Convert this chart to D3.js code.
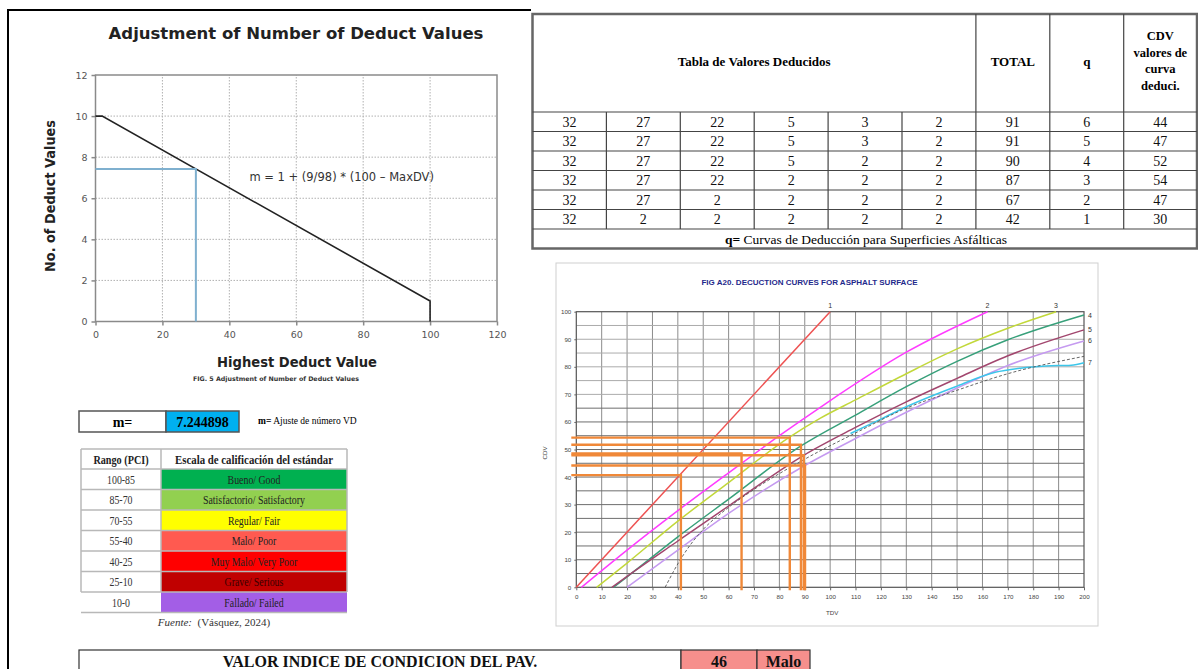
<!DOCTYPE html>
<html>
<head>
<meta charset="utf-8">
<script src="https://cdn.jsdelivr.net/npm/d3@7"></script>
<style>
body { margin: 0; background: #fff; }
svg { display: block; }
</style>
</head>
<body>
<svg width="1198" height="669"></svg>
<script>
var svg = d3.select("svg");

// ---------- data ----------
// adjustment of number of deduct values
var adjDV = [0, 2, 100, 100];
var adjM = [10, 10, 1, 0];
var readDV = 30, readM = 7.43;
var mValue = "7.244898";

// table of deduct values
var dvRows = [
    [32, 27, 22, 5, 3, 2],
    [32, 27, 22, 5, 3, 2],
    [32, 27, 22, 5, 2, 2],
    [32, 27, 22, 2, 2, 2],
    [32, 27, 2, 2, 2, 2],
    [32, 2, 2, 2, 2, 2]
];
var totals = [91, 91, 90, 87, 67, 42];
var qVals = [6, 5, 4, 3, 2, 1];
var cdvVals = [44, 47, 52, 54, 47, 30];

// PCI rating scale
var pciRange = ["100-85", "85-70", "70-55", "55-40", "40-25", "25-10", "10-0"];
var pciLabel = ["Bueno/ Good", "Satisfactorio/ Satisfactory", "Regular/ Fair", "Malo/ Poor",
    "Muy Malo/ Very Poor", "Grave/ Serious", "Fallado/ Failed"];
var pciColor = ["#00b050", "#92d050", "#ffff00", "#ff5a50", "#ff0000", "#c00000", "#a35ee6"];
var pciValue = 46, pciClass = "Malo";

// deduction curves for asphalt surface
var q1TDV = [0, 100], q1CDV = [0, 100];
var q2TDV = [2, 20, 40, 60, 80, 98, 130, 162];
var q2CDV = [0, 13.5, 27.8, 41.5, 55, 66.5, 85.3, 100];
var q3TDV = [8, 20, 40, 60, 84, 96, 110, 130, 150, 170, 189];
var q3CDV = [0, 8.8, 24, 38, 54.5, 61.3, 68, 77.5, 86.5, 94, 100];
var q4TDV = [14.6, 20, 40, 60, 88.5, 110, 130, 150, 170, 200];
var q4CDV = [0, 3.8, 18.3, 32, 51.3, 62.5, 72.8, 82, 89.8, 98.8];
var q5TDV = [14, 20, 40, 60, 89.6, 110, 130, 150, 170, 200];
var q5CDV = [0, 4, 16.8, 29.5, 47.9, 58, 67.3, 75.8, 84, 93.4];
var q6TDV = [20, 40, 60, 90, 110, 130, 150, 170, 200];
var q6CDV = [0, 13.5, 26.8, 44.2, 54, 63.5, 72.3, 80.5, 89.4];
var q7TDV = [108, 120, 130, 150, 165, 175, 185, 195, 200];
var q7CDV = [55.8, 61, 65.5, 73, 78, 79.5, 80.3, 80.6, 81.5];
var trendTDV = [35, 40, 45, 50, 60, 70, 90, 110, 130, 150, 170, 200];
var trendCDV = [0, 8.5, 15.5, 21, 29, 35.5, 46.5, 56, 65, 71.5, 77.5, 83.8];
var curveColor = ["#ee5252", "#ff3cff", "#c2d83a", "#37a07a", "#a2466e", "#c59af0", "#3cc6ea"];

// orange reading lines (TDV -> CDV)
var guideTDV = [41.2, 65.1, 84.1, 88.5, 89.6, 90.1];
var guideCDV = [40.7, 48.6, 54.3, 51.7, 47.9, 44.2];

// ---------- helpers ----------
function squeeze(sel, k) {
    sel.each(function () {
        var w = this.getComputedTextLength();
        d3.select(this).attr("textLength", w * k).attr("lengthAdjust", "spacingAndGlyphs");
    });
}
function fitWidth(sel, w) {
    sel.each(function () {
        var n = this.getComputedTextLength();
        if (n > w) d3.select(this).attr("textLength", w).attr("lengthAdjust", "spacingAndGlyphs");
    });
}

// page frame
svg.append("path")
    .attr("d", "M8,669V10H531")
    .attr("fill", "none").attr("stroke", "#000").attr("stroke-width", 2);

// ---------- left chart ----------
var x1 = d3.scaleLinear().domain([0, 120]).range([95.5, 497]);
var y1 = d3.scaleLinear().domain([0, 12]).range([321.5, 75]);
var left = svg.append("g").attr("font-family", "DejaVu Sans, Verdana, sans-serif");

left.append("g").selectAll("line")
    .data(d3.range(20, 120, 20))
    .enter().append("line")
    .attr("x1", d => x1(d)).attr("x2", d => x1(d))
    .attr("y1", y1(0)).attr("y2", y1(12))
    .attr("stroke", "#b0b0b0").attr("stroke-dasharray", "1.5,1.5");
left.append("g").selectAll("line")
    .data(d3.range(2, 12, 2))
    .enter().append("line")
    .attr("x1", x1(0)).attr("x2", x1(120))
    .attr("y1", d => y1(d)).attr("y2", d => y1(d))
    .attr("stroke", "#b0b0b0").attr("stroke-dasharray", "1.5,1.5");

left.append("rect")
    .attr("x", x1(0)).attr("y", y1(12))
    .attr("width", x1(120) - x1(0)).attr("height", y1(0) - y1(12))
    .attr("fill", "none").attr("stroke", "#8a8a8a").attr("stroke-width", 1.5);

var xAx = left.append("g")
    .attr("transform", "translate(0," + y1(0) + ")")
    .call(d3.axisBottom(x1).tickValues(d3.range(0, 121, 20)).tickSize(4).tickPadding(6));
var yAx = left.append("g")
    .attr("transform", "translate(" + x1(0) + ",0)")
    .call(d3.axisLeft(y1).tickValues(d3.range(0, 13, 2)).tickSize(4).tickPadding(4));
[xAx, yAx].forEach(function (ax) {
    ax.select(".domain").remove();
    ax.attr("font-family", "DejaVu Sans, Verdana, sans-serif");
    ax.selectAll("line").attr("stroke", "#8a8a8a").attr("stroke-width", 1.5);
    ax.selectAll("text").attr("fill", "#555").attr("font-size", 9.5);
});

var adjLine = d3.line().x(d => x1(d[0])).y(d => y1(d[1]));
left.append("path")
    .attr("d", adjLine(d3.zip(adjDV, adjM)))
    .attr("fill", "none").attr("stroke", "#222").attr("stroke-width", 1.6);
left.append("path")
    .attr("d", adjLine([[0, readM], [readDV, readM], [readDV, 0]]))
    .attr("fill", "none").attr("stroke", "#7fb0cf").attr("stroke-width", 2);

left.append("text")
    .attr("x", 296).attr("y", 39).attr("text-anchor", "middle")
    .attr("font-size", 16.5).attr("font-weight", "bold").attr("fill", "#222")
    .text("Adjustment of Number of Deduct Values")
    .call(fitWidth, 385);
left.append("text")
    .attr("x", x1(46)).attr("y", y1(6.85))
    .attr("font-size", 11.5).attr("fill", "#333")
    .text("m = 1 + (9/98) * (100 \u2013 MaxDV)")
    .call(fitWidth, 188);
left.append("text")
    .attr("transform", "translate(55,196) rotate(-90)")
    .attr("text-anchor", "middle")
    .attr("font-size", 13.5).attr("font-weight", "bold").attr("fill", "#222")
    .text("No. of Deduct Values")
    .call(fitWidth, 152);
left.append("text")
    .attr("x", 297).attr("y", 367).attr("text-anchor", "middle")
    .attr("font-size", 14).attr("font-weight", "bold").attr("fill", "#222")
    .text("Highest Deduct Value")
    .call(fitWidth, 160);
left.append("text")
    .attr("x", 276).attr("y", 380.5).attr("text-anchor", "middle")
    .attr("font-size", 6.3).attr("font-weight", "bold").attr("fill", "#333")
    .text("FIG. 5 Adjustment of Number of Deduct Values")
    .call(fitWidth, 190);

// ---------- m box ----------
var serif = "Liberation Serif, Times New Roman, serif";
var mg = svg.append("g").attr("font-family", serif);
mg.append("rect").attr("x", 79).attr("y", 411).attr("width", 87).attr("height", 21)
    .attr("fill", "#fff").attr("stroke", "#555").attr("stroke-width", 1.5);
mg.append("rect").attr("x", 166).attr("y", 411).attr("width", 73).attr("height", 21)
    .attr("fill", "#00b0f0").attr("stroke", "#555").attr("stroke-width", 1.5);
mg.append("text").attr("x", 122.5).attr("y", 426.5).attr("text-anchor", "middle")
    .attr("font-size", 14).attr("font-weight", "bold").text("m=");
mg.append("text").attr("x", 202.5).attr("y", 426.5).attr("text-anchor", "middle")
    .attr("font-size", 14).attr("font-weight", "bold").text(mValue);
var note = mg.append("text").attr("x", 258).attr("y", 424).attr("font-size", 9.5);
note.append("tspan").attr("font-weight", "bold").text("m=");
note.append("tspan").text(" Ajuste de número VD");

// ---------- PCI rating table ----------
var rg = svg.append("g").attr("font-family", serif);
var rx0 = 81, rx1 = 161, rx2 = 347, ry0 = 449, rh0 = 20, rh = 20.5;
rg.append("rect").attr("x", rx0).attr("y", ry0).attr("width", rx2 - rx0).attr("height", rh0)
    .attr("fill", "#fff");
rg.selectAll(".pc").data(pciColor).enter().append("rect")
    .attr("x", rx1).attr("y", (d, i) => ry0 + rh0 + i * rh)
    .attr("width", rx2 - rx1).attr("height", rh)
    .attr("fill", d => d);
var rLines = [ry0].concat(d3.range(8).map(i => ry0 + rh0 + i * rh));
rg.selectAll(".rl").data(rLines).enter().append("line")
    .attr("x1", rx0).attr("x2", rx2).attr("y1", d => d).attr("y2", d => d)
    .attr("stroke", "#b8b8b8").attr("stroke-width", 1.5);
rg.selectAll(".cl").data([rx0, rx1, rx2]).enter().append("line")
    .attr("x1", d => d).attr("x2", d => d).attr("y1", ry0).attr("y2", rLines[7])
    .attr("stroke", "#b8b8b8").attr("stroke-width", 1.5);
rg.append("text").attr("x", (rx0 + rx1) / 2).attr("y", ry0 + 14.5).attr("text-anchor", "middle")
    .attr("font-size", 12).attr("font-weight", "bold").attr("fill", "#222")
    .text("Rango (PCI)").call(squeeze, 0.85);
rg.append("text").attr("x", (rx1 + rx2) / 2).attr("y", ry0 + 14.5).attr("text-anchor", "middle")
    .attr("font-size", 12).attr("font-weight", "bold").attr("fill", "#222")
    .text("Escala de calificación del estándar").call(fitWidth, 158);
rg.selectAll(".rr").data(pciRange).enter().append("text")
    .attr("x", (rx0 + rx1) / 2).attr("y", (d, i) => ry0 + rh0 + i * rh + 14.5)
    .attr("text-anchor", "middle").attr("font-size", 12).attr("fill", "#333")
    .text(d => d).call(squeeze, 0.82);
rg.selectAll(".rt").data(pciLabel).enter().append("text")
    .attr("x", (rx1 + rx2) / 2).attr("y", (d, i) => ry0 + rh0 + i * rh + 14.5)
    .attr("text-anchor", "middle").attr("font-size", 12)
    .attr("fill", (d, i) => i === 5 ? "#3a0000" : "#222")
    .text(d => d).call(squeeze, 0.82);
var src = rg.append("text").attr("x", 214).attr("y", 626).attr("text-anchor", "middle")
    .attr("font-size", 11).attr("fill", "#333");
src.append("tspan").attr("font-style", "italic").text("Fuente:");
src.append("tspan").text("\u00a0 (Vásquez, 2024)");

// ---------- deduct values table ----------
var tg = svg.append("g").attr("font-family", serif);
var tx = d3.range(10).map(i => 532.5 + i * 73.9);
var tyHead = 14, tyBody = 112, th = 19.5;
var tyFoot = tyBody + 6 * th, tyEnd = tyFoot + 19.5;
tg.append("rect").attr("x", tx[0]).attr("y", tyHead).attr("width", 1197 - tx[0]).attr("height", tyEnd - tyHead)
    .attr("fill", "#fff").attr("stroke", "#666").attr("stroke-width", 2.5);
tg.selectAll(".hl").data(d3.range(7).map(i => tyBody + i * th)).enter().append("line")
    .attr("x1", tx[0]).attr("x2", 1197).attr("y1", d => d).attr("y2", d => d)
    .attr("stroke", "#444").attr("stroke-width", 1.2);
tg.selectAll(".vl").data(tx.slice(1, 9)).enter().append("line")
    .attr("x1", d => d).attr("x2", d => d)
    .attr("y1", (d, i) => i < 5 ? tyBody : tyHead).attr("y2", tyFoot)
    .attr("stroke", "#444").attr("stroke-width", 1.2);

tg.append("text").attr("x", (tx[0] + tx[6]) / 2).attr("y", 66).attr("text-anchor", "middle")
    .attr("font-size", 13).attr("font-weight", "bold").text("Tabla de Valores Deducidos")
    .call(fitWidth, 172);
tg.append("text").attr("x", (tx[6] + tx[7]) / 2).attr("y", 66).attr("text-anchor", "middle")
    .attr("font-size", 13).attr("font-weight", "bold").text("TOTAL");
tg.append("text").attr("x", (tx[7] + tx[8]) / 2).attr("y", 66).attr("text-anchor", "middle")
    .attr("font-size", 13).attr("font-weight", "bold").text("q");
tg.selectAll(".cdvh").data(["CDV", "valores de", "curva", "deduci."]).enter().append("text")
    .attr("x", (tx[8] + 1197) / 2).attr("y", (d, i) => 40 + i * 16.5).attr("text-anchor", "middle")
    .attr("font-size", 12.5).attr("font-weight", "bold").text(d => d);

var rowsData = dvRows.map((r, i) => r.concat([totals[i], qVals[i], cdvVals[i]]));
var rowG = tg.selectAll(".row").data(rowsData).enter().append("g")
    .attr("transform", (d, i) => "translate(0," + (tyBody + i * th) + ")");
rowG.selectAll("text").data(d => d).enter().append("text")
    .attr("x", (d, j) => (tx[j] + (j < 8 ? tx[j + 1] : 1197)) / 2)
    .attr("y", 14.5).attr("text-anchor", "middle").attr("font-size", 14)
    .attr("fill", "#111")
    .text(d => d);
var foot = tg.append("text").attr("x", 866).attr("y", tyFoot + 14.5).attr("text-anchor", "middle")
    .attr("font-size", 13.5);
foot.append("tspan").attr("font-weight", "bold").text("q=");
foot.append("tspan").text(" Curvas de Deducción para Superficies Asfálticas");

// ---------- PCI result row ----------
var pg = svg.append("g").attr("font-family", serif).attr("font-weight", "bold");
var pcx = [79, 681, 757, 810];
pg.selectAll("rect").data([null, pciValue, pciClass]).enter().append("rect")
    .attr("x", (d, i) => pcx[i]).attr("y", 650)
    .attr("width", (d, i) => pcx[i + 1] - pcx[i]).attr("height", 26)
    .attr("fill", (d, i) => i === 0 ? "#fff" : "#f68f8c")
    .attr("stroke", "#333").attr("stroke-width", 1.2);
pg.selectAll("text").data(["VALOR INDICE DE CONDICION DEL PAV.", pciValue, pciClass]).enter().append("text")
    .attr("x", (d, i) => (pcx[i] + pcx[i + 1]) / 2).attr("y", 666.5)
    .attr("text-anchor", "middle").attr("font-size", 16).attr("fill", "#111")
    .text(d => d);

// ---------- deduction curves chart ----------
var sans = "Liberation Sans, Arial, sans-serif";
var xc = d3.scaleLinear().domain([0, 200]).range([576.3, 1084]);
var yc = d3.scaleLinear().domain([0, 100]).range([587.3, 311.7]);
var cg = svg.append("g").attr("font-family", sans);

cg.append("rect").attr("x", 556).attr("y", 263).attr("width", 542).attr("height", 363)
    .attr("fill", "#fff").attr("stroke", "#cfcfcf").attr("stroke-width", 1);

cg.selectAll(".vg").data(d3.range(10, 200, 10)).enter().append("line")
    .attr("x1", d => xc(d)).attr("x2", d => xc(d)).attr("y1", yc(0)).attr("y2", yc(100))
    .attr("stroke", "#8c8c8c").attr("stroke-width", 1);
cg.selectAll(".hg").data(d3.range(5, 100, 5)).enter().append("line")
    .attr("x1", xc(0)).attr("x2", xc(200)).attr("y1", d => yc(d)).attr("y2", d => yc(d))
    .attr("stroke", d => d <= 65 ? "#6e6e6e" : "#ababab").attr("stroke-width", 1);
cg.append("rect").attr("x", xc(0)).attr("y", yc(100))
    .attr("width", xc(200) - xc(0)).attr("height", yc(0) - yc(100))
    .attr("fill", "none").attr("stroke", "#555").attr("stroke-width", 1.2);

var cxAx = cg.append("g").attr("transform", "translate(0," + yc(0) + ")")
    .call(d3.axisBottom(xc).tickValues(d3.range(0, 201, 10)).tickSize(3).tickPadding(4));
var cyAx = cg.append("g").attr("transform", "translate(" + xc(0) + ",0)")
    .call(d3.axisLeft(yc).tickValues(d3.range(0, 101, 10)).tickSize(2).tickPadding(3));
[cxAx, cyAx].forEach(function (ax) {
    ax.select(".domain").remove();
    ax.attr("font-family", sans);
    ax.selectAll("line").attr("stroke", "#666");
    ax.selectAll("text").attr("fill", "#444").attr("font-size", 6.2);
});
cg.append("text").attr("x", 826).attr("y", 615).attr("font-size", 6.2).attr("fill", "#444").text("TDV");
cg.append("text").attr("transform", "translate(547,453) rotate(-90)").attr("text-anchor", "middle")
    .attr("font-size", 6.2).attr("fill", "#444").text("CDV");
cg.append("text").attr("x", 809.5).attr("y", 284.5).attr("text-anchor", "middle")
    .attr("font-size", 8).attr("font-weight", "bold").attr("fill", "#1f2a8c")
    .text("FIG A20. DECUCTION CURVES FOR ASPHALT SURFACE").call(fitWidth, 222);

var curveLine = d3.line().x(d => xc(d[0])).y(d => yc(d[1])).curve(d3.curveMonotoneX);
var curves = [
    d3.zip(q1TDV, q1CDV), d3.zip(q2TDV, q2CDV), d3.zip(q3TDV, q3CDV), d3.zip(q4TDV, q4CDV),
    d3.zip(q5TDV, q5CDV), d3.zip(q6TDV, q6CDV), d3.zip(q7TDV, q7CDV)
];
cg.selectAll(".curve").data(curves).enter().append("path")
    .attr("d", curveLine)
    .attr("fill", "none")
    .attr("stroke", (d, i) => curveColor[i])
    .attr("stroke-width", 1.5);
cg.append("path")
    .attr("d", curveLine(d3.zip(trendTDV, trendCDV)))
    .attr("fill", "none").attr("stroke", "#555").attr("stroke-width", 0.9)
    .attr("stroke-dasharray", "3,2");

// curve numbers
cg.selectAll(".qlab").data(curves).enter().append("text")
    .attr("x", (d, i) => i < 3 ? xc(d[d.length - 1][0]) : xc(200) + 4)
    .attr("y", (d, i) => i < 3 ? yc(100) - 4 : yc(d[d.length - 1][1]) + 2.5)
    .attr("text-anchor", (d, i) => i < 3 ? "middle" : "start")
    .attr("font-size", 7).attr("fill", "#333")
    .text((d, i) => i + 1);

// orange reading lines
var og = cg.append("g").attr("stroke", "#f08838").attr("stroke-width", 2.4).attr("fill", "none");
og.selectAll("path").data(d3.zip(guideTDV, guideCDV)).enter().append("path")
    .attr("d", d => "M" + (xc(0) - 5) + "," + yc(d[1]) + "H" + xc(d[0]) + "V" + (yc(0) + 3));
</script>
</body>
</html>
